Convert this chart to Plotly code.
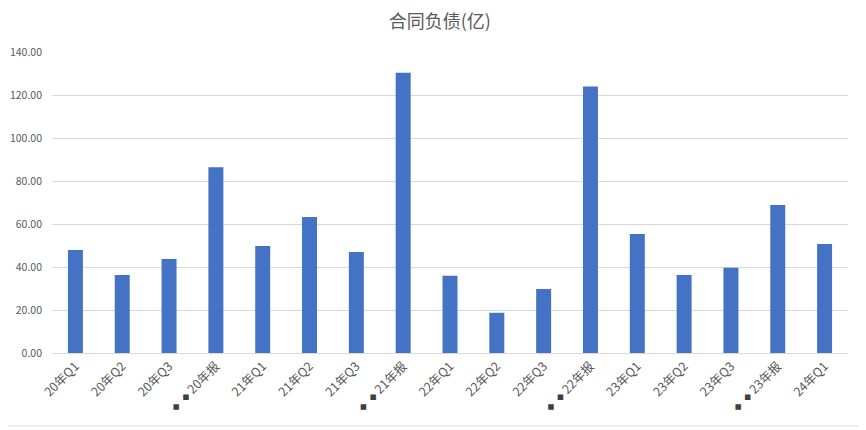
import plotly.graph_objects as go

categories = ["20年Q1", "20年Q2", "20年Q3", "20年报",
              "21年Q1", "21年Q2", "21年Q3", "21年报",
              "22年Q1", "22年Q2", "22年Q3", "22年报",
              "23年Q1", "23年Q2", "23年Q3", "23年报",
              "24年Q1"]
values = [47.9, 36.3, 43.7, 86.4,
          49.8, 63.2, 47.0, 130.4,
          35.9, 18.7, 29.8, 124.0,
          55.3, 36.3, 39.6, 68.8,
          50.7]
y_ticks = [0, 20, 40, 60, 80, 100, 120, 140]

# the page body has an 8px default margin; work in reference-pixel coords
OFF = 8
W, H = 866 - OFF, 430 - OFF
L, R, T, B = 52, 848.5, 52, 353  # plot area in reference pixels
ml = L - OFF
mr = 866 - R
mt = T - OFF
mb = 430 - B
pw = R - L
ph = B - T


def px_x(p):
    return (p - L) / pw


def px_y(p):
    return (B - p) / ph


NB = "\u00a0"
ticktext = []
for c in categories:
    if "报" in c:
        sq = "<span style='font-size:8px;color:#404040'>◆</span>"
        ticktext.append(sq + NB * 2 + sq + NB + c)
    else:
        ticktext.append(c)

font_family = "Noto Sans CJK SC, Microsoft YaHei, sans-serif"

fig = go.Figure(go.Bar(
    x=categories,
    y=values,
    marker=dict(color="#4472C4", line=dict(width=0)),
    hoverinfo="x+y",
))

fig.update_layout(
    width=W, height=H,
    margin=dict(l=ml, r=mr, t=mt, b=mb, autoexpand=False),
    paper_bgcolor="white",
    plot_bgcolor="white",
    bargap=0.68,
    showlegend=False,
    font=dict(family=font_family, color="#595959", size=12),
    title=dict(
        text="合同负债(亿)",
        x=px_x(440), xref="paper", xanchor="center",
        y=1 - (22 - OFF) / H, yref="container", yanchor="middle",
        font=dict(size=18, color="#595959", family=font_family),
    ),
    xaxis=dict(
        type="category",
        tickmode="array",
        tickvals=categories,
        ticktext=ticktext,
        tickangle=-45,
        showgrid=False,
        showline=True,
        linecolor="#d9d9d9",
        linewidth=1,
        ticks="",
        tickfont=dict(size=12.5, color="#595959"),
        range=[-0.5, len(categories) - 0.5],
        fixedrange=True,
    ),
    yaxis=dict(
        range=[0, 140],
        tickmode="array",
        tickvals=y_ticks,
        ticktext=[f"{v:.2f}" for v in y_ticks],
        showgrid=True,
        gridcolor="#d9d9d9",
        gridwidth=1,
        zeroline=False,
        showline=False,
        ticks="",
        ticklabelstandoff=9,
        tickfont=dict(size=10.5, color="#595959"),
        fixedrange=True,
    ),
    shapes=[
        dict(type="rect", xref="paper", yref="paper",
             x0=px_x(-1), x1=px_x(862), y0=px_y(426), y1=px_y(1),
             line=dict(color="#d9d9d9", width=1), fillcolor="rgba(0,0,0,0)",
             layer="below"),
    ],
)

fig.write_html("out.html")
